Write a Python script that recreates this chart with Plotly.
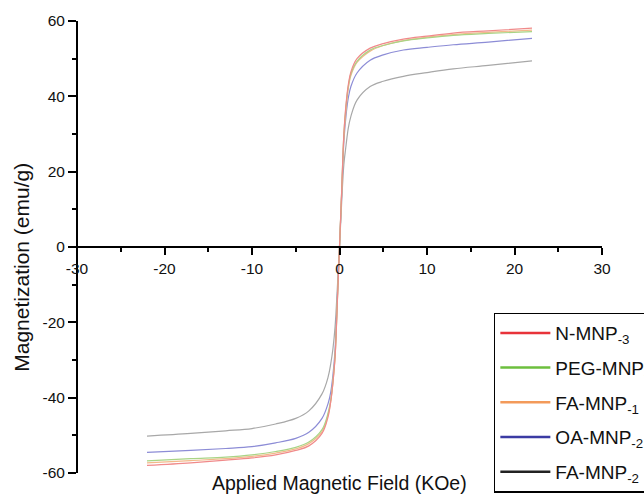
import plotly.graph_objects as go

# Applied magnetic field (KOe)
field = [-22, -17, -13, -10, -7.3, -5, -3.5, -2, -1.3, -1, -0.75, -0.5, -0.25, 0,
         0.25, 0.5, 0.75, 1, 1.3, 2, 3.5, 5, 7.3, 10, 13, 17, 22]

# Magnetization (emu/g)
n_mnp3 = [-58, -57.3, -56.6, -56, -55.2, -54, -52.8, -49.5, -45, -41, -36, -29, -15, 0,
          15, 30, 38, 43, 46.5, 50, 52.8, 54, 55.2, 56, 56.8, 57.4, 58.1]
peg_mnp2 = [-56.8, -56.2, -55.8, -55.2, -54.3, -53.2, -51.8, -48.5, -44, -40.5, -35.5, -28.5, -14.5, 0,
            15, 30, 37.5, 42.5, 46, 49.3, 52.3, 53.5, 54.7, 55.5, 56.2, 56.7, 57.2]
fa_mnp1 = [-57.3, -56.7, -56.2, -55.6, -54.7, -53.6, -52.2, -49, -44.5, -41, -36, -29, -14.5, 0,
           14.5, 29, 36.5, 42, 45.5, 49, 52, 53.5, 54.8, 55.7, 56.4, 57, 57.6]
oa_mnp2 = [-54.5, -54, -53.5, -53, -52, -50.8, -49.2, -45.5, -41.5, -38.5, -34, -27, -13.5, 0,
           14, 28, 35, 39.5, 42.6, 46.2, 49.6, 51, 52.3, 53, 53.7, 54.4, 55.4]
fa_mnp2 = [-50.2, -49.5, -48.8, -48.2, -47, -45.5, -43.5, -39, -34.5, -31, -27, -21, -11, 0,
           12, 22, 27, 31.5, 34.7, 39, 42.6, 44, 45.3, 46.3, 47.3, 48.2, 49.4]

series_names = ["N-MNP<sub>-3</sub>", "PEG-MNP<sub>-2</sub>", "FA-MNP<sub>-1</sub>",
                "OA-MNP<sub>-2</sub>", "FA-MNP<sub>-2</sub>"]
series_values = [n_mnp3, peg_mnp2, fa_mnp1, oa_mnp2, fa_mnp2]
curve_colors = ["#f08a8a", "#a9d486", "#f2b98a", "#8c8cd6", "#a8a8a8"]
legend_colors = ["#e8333a", "#6cbf3e", "#f39a5a", "#3b3ba3", "#222222"]

x_ticks = [-30, -20, -10, 0, 10, 20, 30]
y_ticks = [-60, -40, -20, 0, 20, 40, 60]

FONT = "Liberation Sans, Arial, sans-serif"

fig = go.Figure()

# draw curves (bottom-most first so red ends on top)
for name, vals, col in reversed(list(zip(series_names, series_values, curve_colors))):
    fig.add_trace(go.Scatter(x=field, y=vals, mode="lines", line=dict(color=col, width=1.2, shape="spline"),
                             showlegend=False, hoverinfo="skip"))

# legend entries
for i, (name, col) in enumerate(zip(series_names, legend_colors)):
    fig.add_trace(go.Scatter(x=[None], y=[None], mode="lines", name=name,
                             line=dict(color=col, width=2.5), legendgroup=f"g{i}"))

fig.update_layout(
    width=644, height=495,
    margin=dict(l=77, r=42, t=21, b=22, autoexpand=False),
    paper_bgcolor="white", plot_bgcolor="white",
    showlegend=True,
    legend=dict(x=0.794, y=0.355, xanchor="left", yanchor="top",
                bordercolor="black", borderwidth=1.5, bgcolor="white",
                font=dict(family=FONT, size=19, color="#111"),
                itemwidth=50, tracegroupgap=7, traceorder="grouped"),
    xaxis=dict(range=[-30, 30], tickvals=x_ticks, ticktext=[str(v) for v in x_ticks],
               ticks="outside", ticklen=7, tickwidth=1.5, tickcolor="black",
               showline=True, linewidth=2, linecolor="black",
               anchor="free", position=0.5, showgrid=False, zeroline=False,
               minor=dict(dtick=5, tick0=0, ticks="outside", ticklen=4, tickwidth=1.5, tickcolor="black"),
               tickfont=dict(family=FONT, size=15.5, color="#111")),
    yaxis=dict(range=[-60, 60], tickvals=y_ticks, ticktext=[str(v) for v in y_ticks],
               ticks="outside", ticklen=8, tickwidth=1.5, tickcolor="black",
               showline=True, linewidth=2, linecolor="black",
               anchor="free", position=0, showgrid=False, zeroline=False,
               minor=dict(dtick=10, tick0=0, ticks="outside", ticklen=4, tickwidth=1.5, tickcolor="black"),
               tickfont=dict(family=FONT, size=15.5, color="#111")),
    annotations=[
        dict(text="Applied Magnetic Field (KOe)", xref="paper", yref="paper",
             x=0.5, y=-0.022, xanchor="center", yanchor="middle", showarrow=False,
             font=dict(family=FONT, size=19.5, color="#111")),
        dict(text="Magnetization (emu/g)", xref="paper", yref="paper",
             x=-0.105, y=0.456, xanchor="center", yanchor="middle", showarrow=False, textangle=-90,
             font=dict(family=FONT, size=21, color="#111")),
    ],
)

fig.write_html("out.html")
